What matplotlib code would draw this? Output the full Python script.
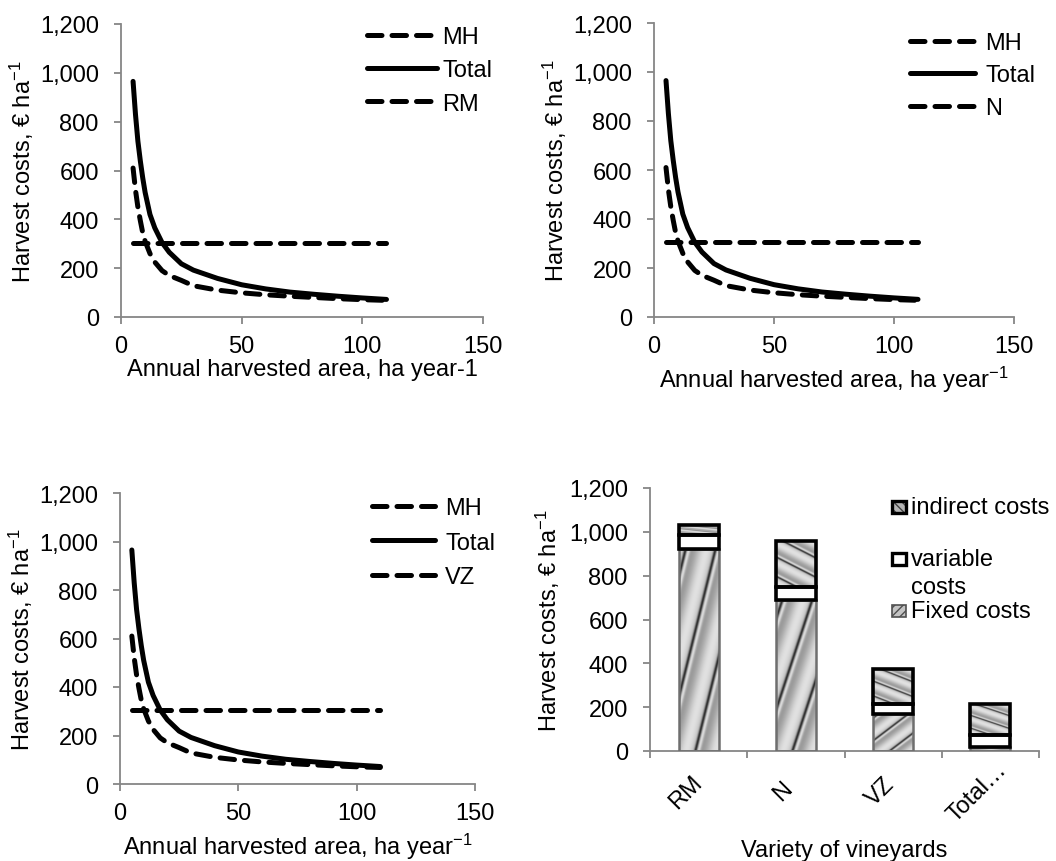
import numpy as np
import matplotlib
matplotlib.use('Agg')
import matplotlib.pyplot as plt
from matplotlib.patches import Rectangle
from matplotlib.ticker import FuncFormatter, FixedLocator

# ---------------- data ----------------
area = [5, 6, 7, 8, 9, 10, 12, 14, 17, 20, 25, 30, 40, 50, 60, 70, 80, 90, 100, 110]
mh_cost = [305, 305, 305, 305, 305, 305, 305, 305, 305, 305,
           305, 305, 305, 305, 305, 305, 305, 305, 305, 305]
total_cost = [965, 830, 720, 640, 570, 510, 420, 365, 305, 265,
              218, 192, 158, 132, 115, 102, 93, 85, 78, 72]
rm_cost = [610, 520, 450, 395, 345, 310, 260, 225, 190, 170,
           150, 128, 110, 99, 91, 85, 80, 75, 71, 68]
n_cost = [610, 520, 450, 395, 345, 310, 260, 225, 190, 170,
          150, 128, 110, 99, 91, 85, 80, 75, 71, 68]
vz_cost = [610, 520, 450, 395, 345, 310, 260, 225, 190, 170,
           150, 128, 110, 99, 91, 85, 80, 75, 71, 68]

varieties = ['RM', 'N', 'VZ', 'Total…']
fixed_costs = [920, 690, 170, 20]
variable_costs = [65, 60, 45, 55]
indirect_costs = [45, 210, 160, 140]

x_ticks = [0, 50, 100, 150]
y_ticks = [0, 200, 400, 600, 800, 1000, 1200]

# ---------------- style ----------------
plt.rcParams['font.family'] = ['Liberation Sans', 'DejaVu Sans']
plt.rcParams['font.size'] = 17
plt.rcParams['mathtext.fontset'] = 'custom'
plt.rcParams['mathtext.rm'] = 'Liberation Sans'
plt.rcParams['mathtext.it'] = 'Liberation Sans:italic'
plt.rcParams['mathtext.bf'] = 'Liberation Sans:bold'
plt.rcParams['hatch.linewidth'] = 1.0

W, H = 1056, 862
fig = plt.figure(figsize=(W / 100, H / 100), dpi=100)


def rect(x0, ytop, x1, ybot):
    return [x0 / W, 1 - ybot / H, (x1 - x0) / W, (ybot - ytop) / H]


AXC = '#868686'


def style(ax):
    for s in ['top', 'right']:
        ax.spines[s].set_visible(False)
    for s in ['left', 'bottom']:
        ax.spines[s].set_color(AXC)
        ax.spines[s].set_linewidth(1.3)
    ax.tick_params(axis='both', which='both', colors=AXC, labelcolor='black',
                   length=5, width=1.3, direction='out')
    ax.tick_params(axis='y', pad=11)
    ax.tick_params(axis='x', pad=8)
    ax.set_ylim(0, 1200)
    ax.yaxis.set_major_locator(FixedLocator(y_ticks))
    ax.yaxis.set_major_formatter(FuncFormatter(lambda v, p: f'{v:,.0f}'))


YLABEL = 'Harvest costs, € ha$^{-1}$'
LW = 3.6
DASH = (2.9, 2.0)


def line_panel(r, other, other_label, xlabel, xlpad, leg_left, leg_top, hl, htp, ls):
    ax = fig.add_axes(rect(*r))
    style(ax)
    dkw = dict(color='black', lw=LW, dash_capstyle='round', solid_capstyle='round')
    ax.plot(area, mh_cost, dashes=DASH, label='MH', **dkw)
    ax.plot(area, total_cost, color='black', lw=LW, solid_capstyle='round',
            solid_joinstyle='round', label='Total')
    ax.plot(area, other, dashes=DASH, label=other_label, **dkw)
    ax.set_xlim(0, 150)
    ax.xaxis.set_major_locator(FixedLocator(x_ticks))
    ax.set_xlabel(xlabel, labelpad=xlpad)
    ax.set_ylabel(YLABEL, labelpad=3)
    ax.legend(loc='upper left', bbox_to_anchor=(leg_left / W, 1 - leg_top / H),
              bbox_transform=fig.transFigure, frameon=False, borderpad=0,
              borderaxespad=0, handlelength=hl, handletextpad=htp,
              labelspacing=ls)
    return ax


line_panel((121, 25, 483, 318), rm_cost, 'RM',
           'Annual harvested area, ha year-1', 0.5, 367, 27, 2.95, 0.25, 0.48)
line_panel((654, 24, 1014, 318), n_cost, 'N',
           'Annual harvested area, ha year$^{-1}$', 4.5, 910, 33, 2.75, 0.45, 0.44)
line_panel((120, 494, 475, 785), vz_cost, 'VZ',
           'Annual harvested area, ha year$^{-1}$', 5, 372, 498, 2.65, 0.45, 0.54)

# ---------------- bar panel ----------------
axb = fig.add_axes(rect(650, 489, 1039, 752))
style(axb)
xpos = np.arange(len(varieties))
bw = 0.41


def stripes(slope, period, n=260):
    u = np.linspace(0, 1, n)
    v = np.linspace(0, 1, n)
    U, V = np.meshgrid(u, v)
    t = ((U + slope * V) / period) % 1.0
    g = 0.74 + 0.14 * np.sin(2 * np.pi * t)
    g -= 0.55 * np.exp(-((t - 0.55) / 0.05) ** 2)
    g += 0.25 * np.exp(-((t - 0.66) / 0.06) ** 2)
    return np.clip(g, 0, 1)


fixed_tex = stripes(-1.25, 0.75)
indirect_tex = stripes(2.3, 0.95)

b_fixed = axb.bar(xpos, fixed_costs, bw, facecolor='none', edgecolor='#6e6e6e',
                  lw=1.8, zorder=3)
bottom2 = np.array(fixed_costs)
b_var = axb.bar(xpos, variable_costs, bw, bottom=bottom2, facecolor='white',
                edgecolor='black', lw=2.6, zorder=4)
bottom3 = bottom2 + np.array(variable_costs)
b_ind = axb.bar(xpos, indirect_costs, bw, bottom=bottom3, facecolor='none',
                edgecolor='black', lw=2.6, zorder=4)


def texture(bars, tex):
    for p in bars:
        x0, y0 = p.get_x(), p.get_y()
        w, h = p.get_width(), p.get_height()
        im = axb.imshow(tex, extent=(x0, x0 + w, y0, y0 + h), origin='lower',
                        aspect='auto', cmap='gray', vmin=0, vmax=1,
                        interpolation='bilinear', zorder=2)
        im.set_clip_path(p)


texture(b_fixed, fixed_tex)
texture(b_ind, indirect_tex)

axb.set_xlim(-0.5, len(varieties) - 0.5)
axb.set_ylim(0, 1200)
# rotated category labels sit slightly left of the category centre (as in Excel)
label_shift = 0.134
axb.set_xticks(xpos - label_shift)
axb.set_xticklabels(varieties, rotation=45, ha='center', va='center',
                    rotation_mode='anchor')
axb.xaxis.set_minor_locator(FixedLocator(np.arange(len(varieties) + 1) - 0.5))
axb.tick_params(axis='x', which='major', length=0, pad=29)
axb.tick_params(axis='x', which='minor', length=5)
axb.set_xlabel('Variety of vineyards', labelpad=10)
axb.set_ylabel(YLABEL, labelpad=5)


# manual legend for the bar panel
def fr(x, y, w, h):
    return (x / W, 1 - (y + h) / H), w / W, h / H


xy, w, h = fr(892, 502, 14, 12)
fig.add_artist(Rectangle(xy, w, h, transform=fig.transFigure, facecolor='#b4b4b4',
                         edgecolor='#404040', lw=0, hatch='\\\\\\\\'))
fig.add_artist(Rectangle(xy, w, h, transform=fig.transFigure, fill=False,
                         edgecolor='black', lw=2.4))
xy, w, h = fr(892, 554, 14, 12)
fig.add_artist(Rectangle(xy, w, h, transform=fig.transFigure, facecolor='white',
                         edgecolor='black', lw=2.4))
xy, w, h = fr(892, 606, 14, 12)
fig.add_artist(Rectangle(xy, w, h, transform=fig.transFigure, facecolor='#c4c4c4',
                         edgecolor='#505050', lw=1.2, hatch='////'))

fig.text(911 / W, 1 - 508 / H, 'indirect costs', ha='left', va='center')
fig.text(911 / W, 1 - 560 / H, 'variable', ha='left', va='center')
fig.text(911 / W, 1 - 588 / H, 'costs', ha='left', va='center')
fig.text(911 / W, 1 - 612 / H, 'Fixed costs', ha='left', va='center')

fig.savefig('out.png', dpi=100)
